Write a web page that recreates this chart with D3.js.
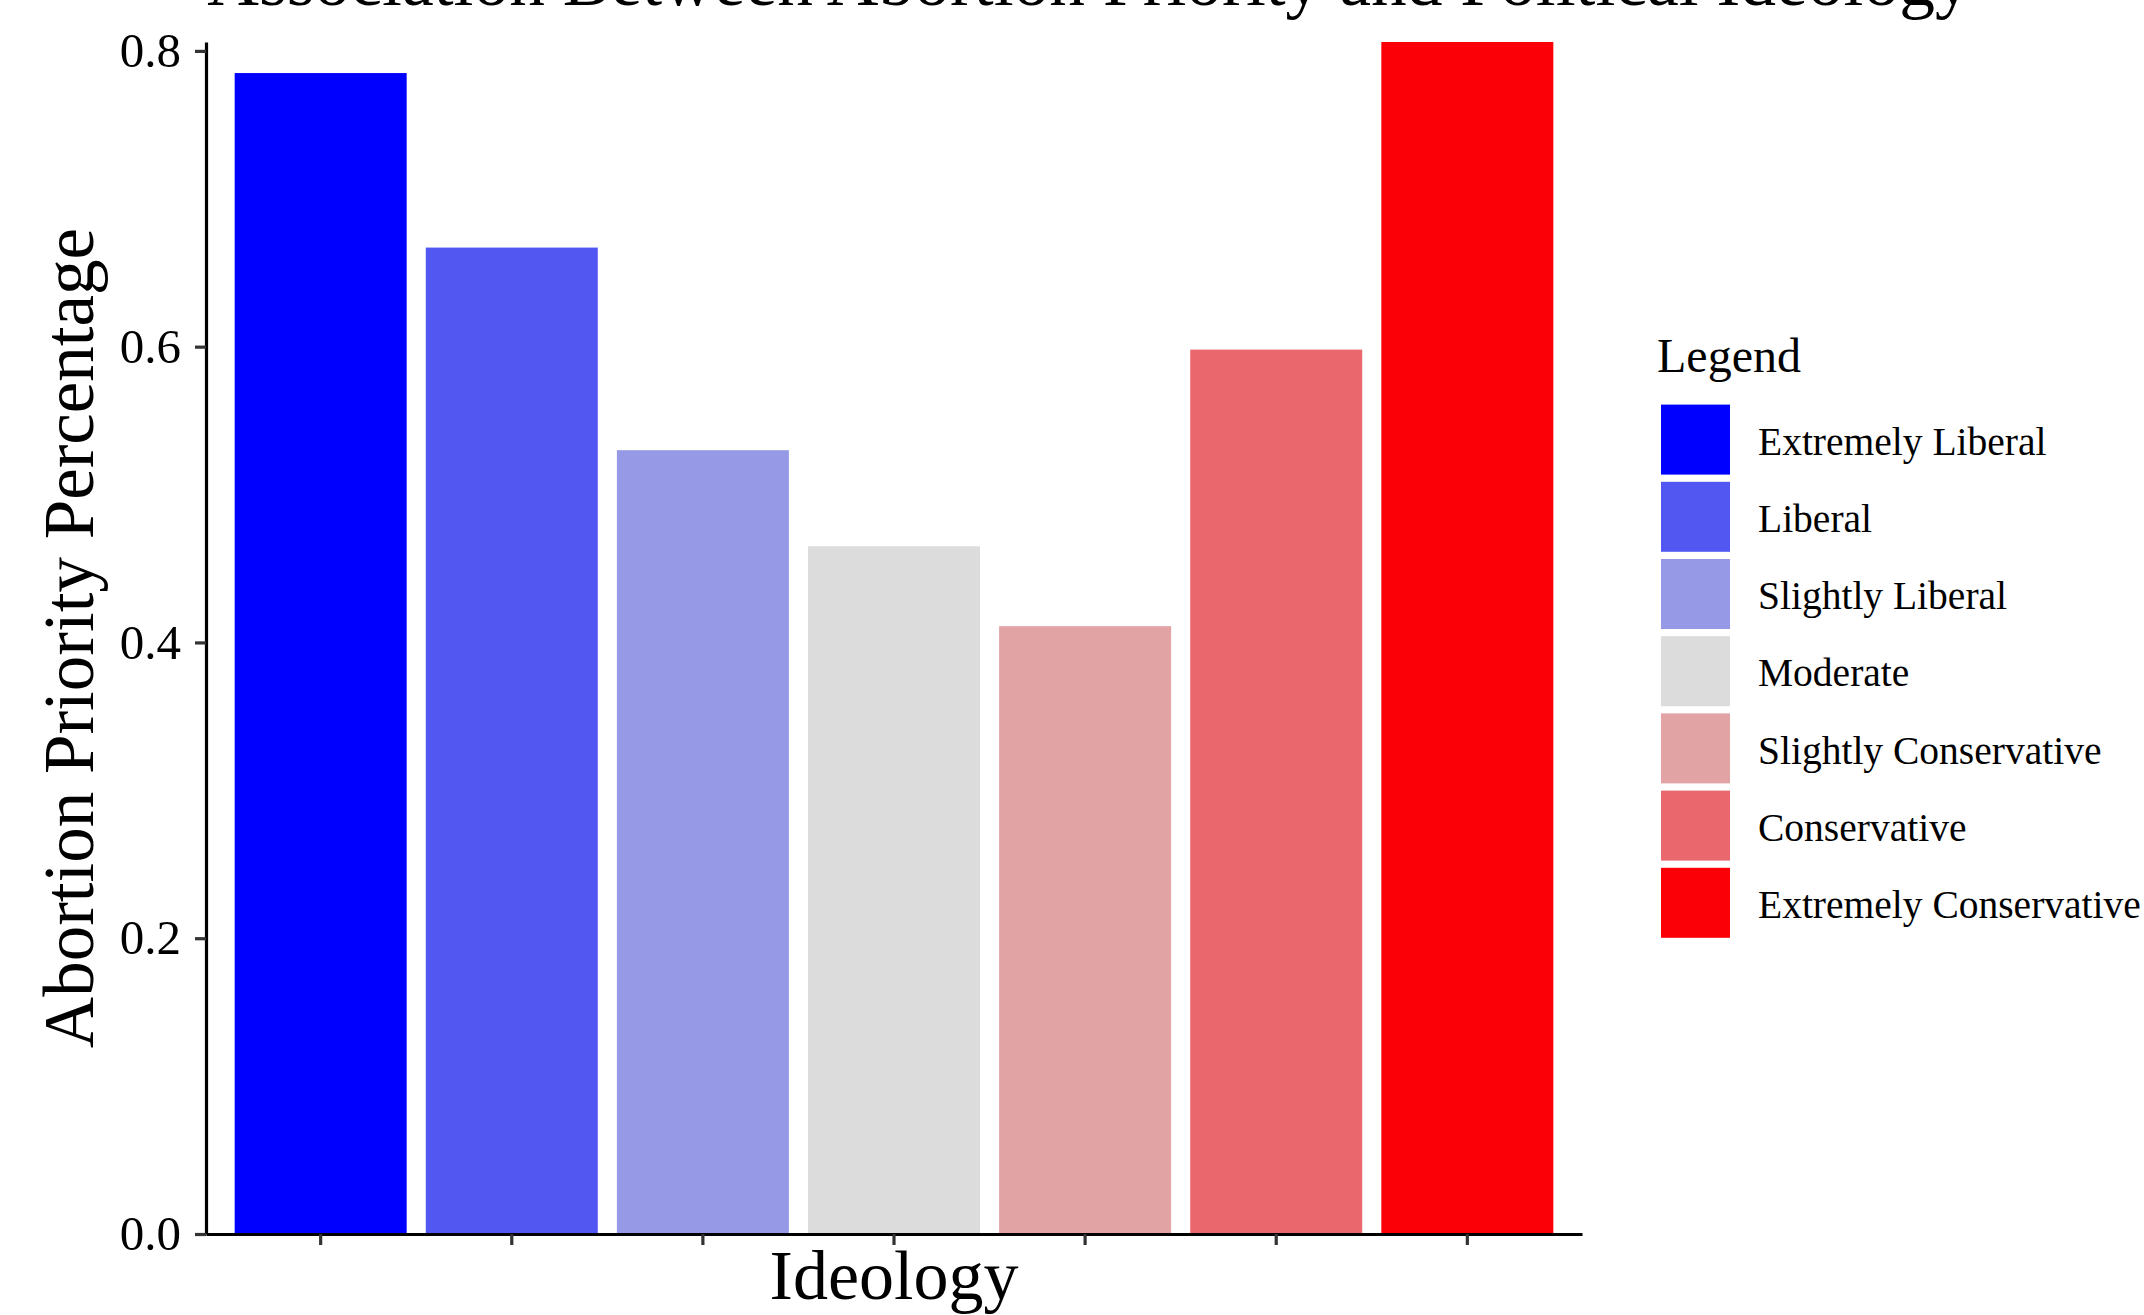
<!DOCTYPE html>
<html>
<head>
<meta charset="utf-8">
<script src="https://cdn.jsdelivr.net/npm/d3@7"></script>
<style>
  body { margin: 0; background: #fff; }
  svg { display: block; font-family: "Liberation Serif", "Times New Roman", serif; }
</style>
</head>
<body>
<svg width="2144" height="1315"></svg>
<script>
const categories = [
  "Extremely Liberal",
  "Liberal",
  "Slightly Liberal",
  "Moderate",
  "Slightly Conservative",
  "Conservative",
  "Extremely Conservative",
];
const values = [0.785, 0.667, 0.530, 0.465, 0.411, 0.598, 0.806];
const yTicks = [0.0, 0.2, 0.4, 0.6, 0.8];
const colors = [
  "#0000ff",
  "#5257f2",
  "#9599e6",
  "#dcdcdc",
  "#e2a3a5",
  "#ea676d",
  "#fb0007",
];

const createBarChart = () => {
  const svg = d3.select("svg");
  const left = 206;
  const right = 1582;
  const top = 42;
  const bottom = 1234;

  const x = d3
    .scaleBand()
    .domain(categories)
    .range([left, right])
    .paddingInner(0.1)
    .paddingOuter(0.15);

  const y = d3
    .scaleLinear()
    .domain([0, d3.max(values)])
    .range([bottom, top]);

  const color = d3.scaleOrdinal().domain(categories).range(colors);

  // Title (sits at the very top edge, as in the original)
  svg
    .append("text")
    .attr("x", 1089)
    .attr("y", 5)
    .attr("text-anchor", "middle")
    .attr("font-size", 71.5)
    .text("Association Between Abortion Priority and Political Ideology");

  // Bars
  svg
    .append("g")
    .selectAll("rect")
    .data(categories)
    .enter()
    .append("rect")
    .attr("x", (d) => x(d))
    .attr("width", x.bandwidth())
    .attr("y", (d, i) => y(values[i]))
    .attr("height", (d, i) => bottom - y(values[i]))
    .attr("fill", (d) => color(d));

  // Y axis
  const yAxis = svg
    .append("g")
    .attr("transform", "translate(" + left + ",0)")
    .call(
      d3
        .axisLeft(y)
        .tickValues(yTicks)
        .tickFormat(d3.format(".1f"))
        .tickSize(11)
        .tickSizeOuter(0)
        .tickPadding(14)
    );
  yAxis.select(".domain").attr("stroke", "#000").attr("stroke-width", 3.2);
  yAxis.selectAll(".tick line").attr("stroke", "#333").attr("stroke-width", 3.2);
  yAxis
    .selectAll(".tick text")
    .attr("font-size", 49)
    .attr("font-family", "Liberation Serif, Times New Roman, serif")
    .attr("fill", "#000");

  // X axis, ticks only
  const xAxis = svg
    .append("g")
    .attr("transform", "translate(0," + bottom + ")")
    .call(d3.axisBottom(x).tickSize(11).tickSizeOuter(0).tickFormat(""));
  xAxis.select(".domain").attr("stroke", "#000").attr("stroke-width", 3.2);
  xAxis.selectAll(".tick line").attr("stroke", "#333").attr("stroke-width", 3.2);

  // Axis titles
  svg
    .append("text")
    .attr("x", (left + right) / 2)
    .attr("y", 1299)
    .attr("text-anchor", "middle")
    .attr("font-size", 70)
    .text("Ideology");

  svg
    .append("text")
    .attr("transform", "translate(93," + (top + bottom) / 2 + ") rotate(-90)")
    .attr("text-anchor", "middle")
    .attr("font-size", 71)
    .text("Abortion Priority Percentage");

  // Legend
  const legend = svg.append("g").attr("transform", "translate(1657,0)");
  legend
    .append("text")
    .attr("x", 0)
    .attr("y", 372)
    .attr("font-size", 48)
    .text("Legend");

  const keys = legend
    .selectAll(".key")
    .data(categories)
    .enter()
    .append("g")
    .attr("class", "key")
    .attr("transform", (d, i) => "translate(0," + (401 + i * 77.2) + ")");

  keys
    .append("rect")
    .attr("x", 4)
    .attr("y", 3.6)
    .attr("width", 69)
    .attr("height", 70)
    .attr("fill", (d) => color(d));

  keys
    .append("text")
    .attr("x", 101)
    .attr("y", 40)
    .attr("dy", "0.35em")
    .attr("font-size", 39.5)
    .text((d) => d);
};

createBarChart();
</script>
</body>
</html>
